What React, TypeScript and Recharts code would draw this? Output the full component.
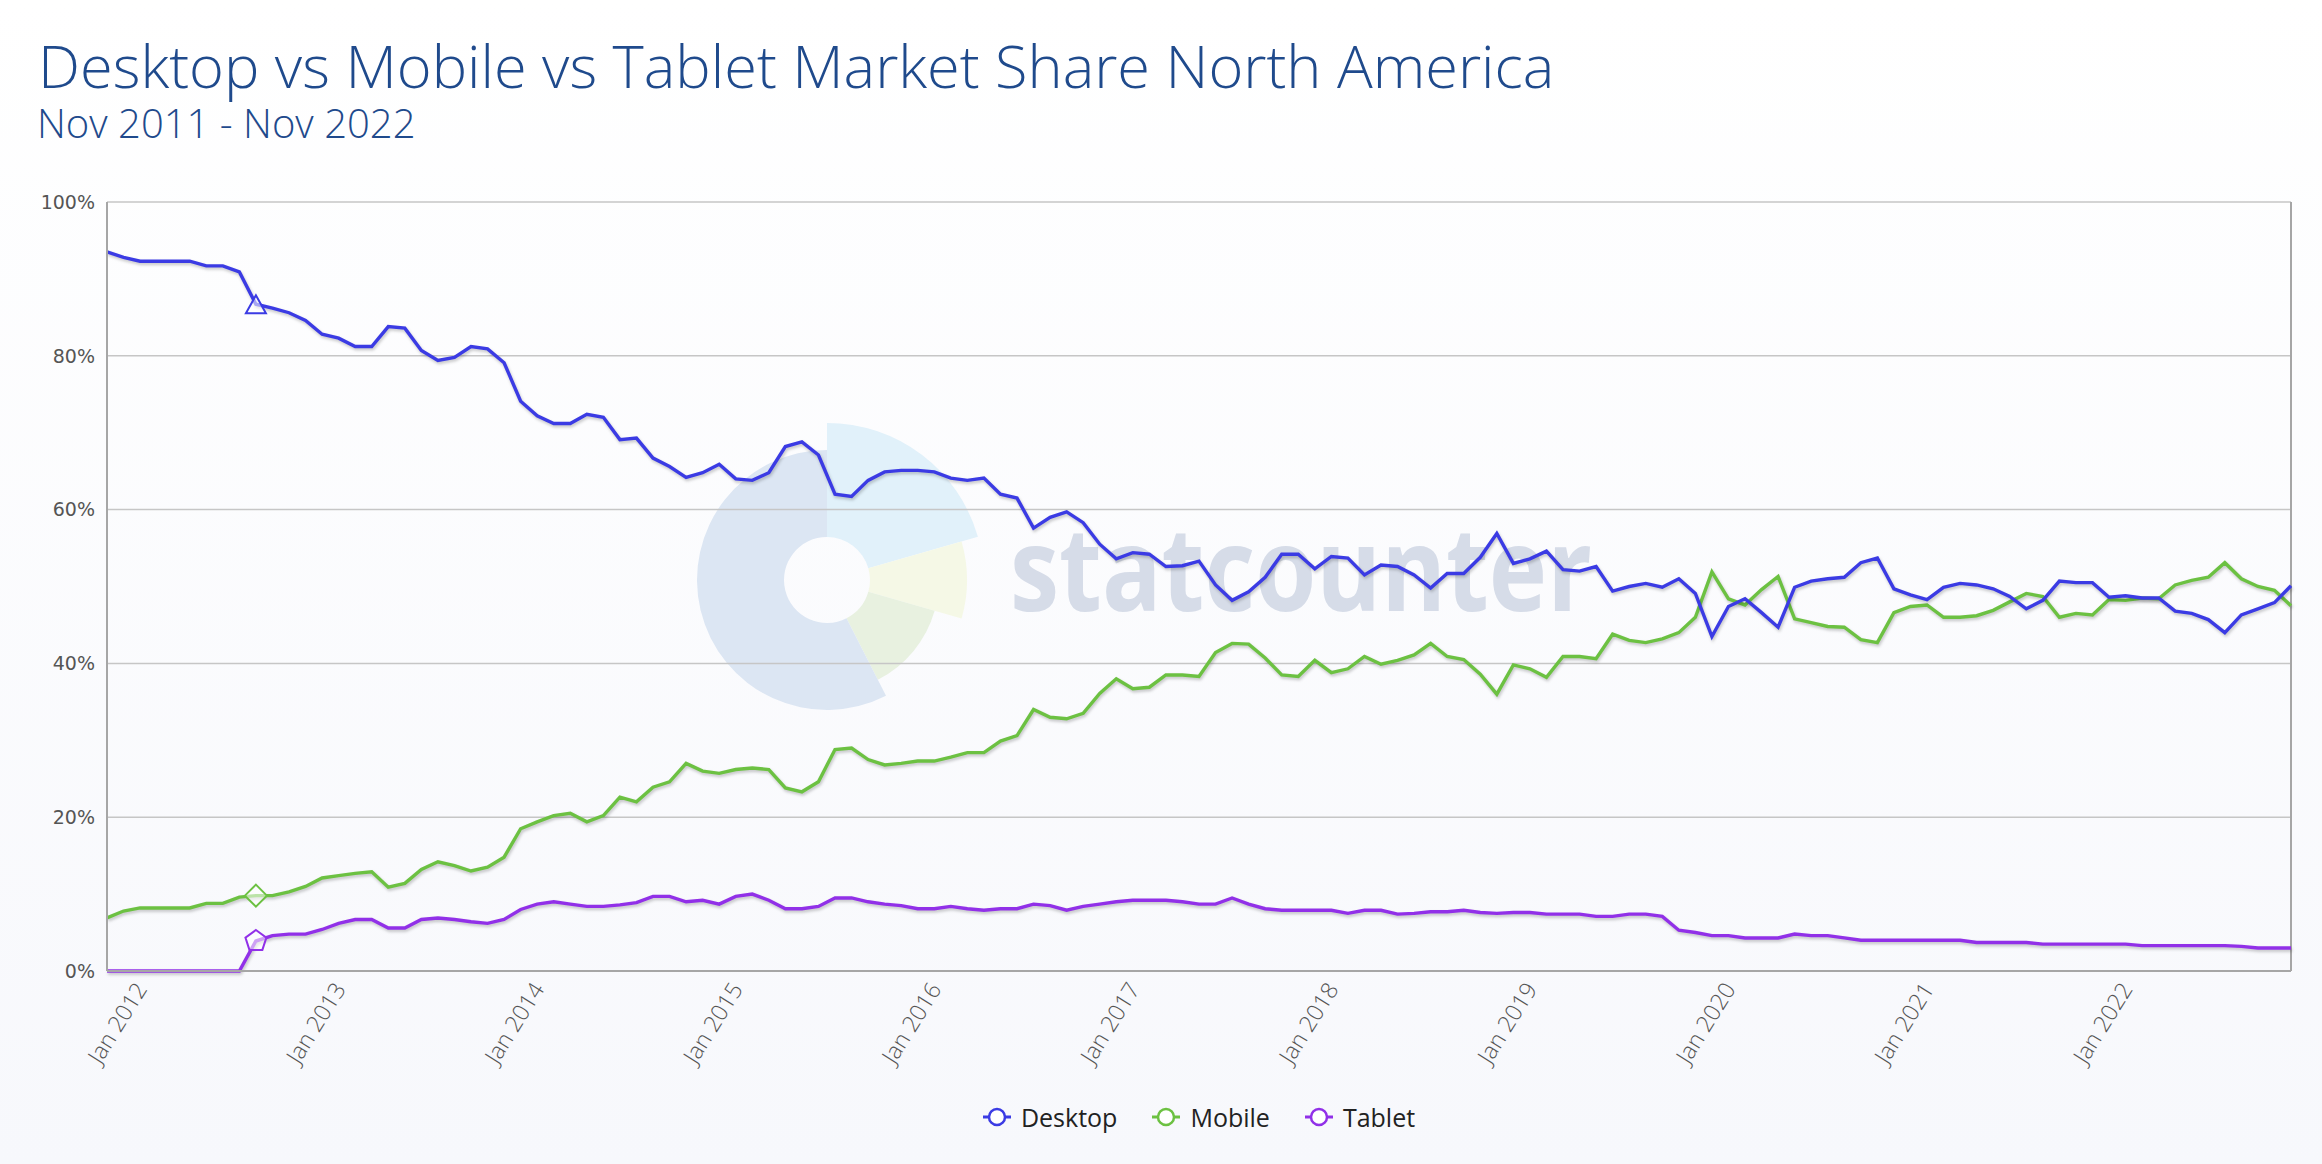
import React from "react";
import { LineChart, Line, XAxis, YAxis, CartesianGrid, ReferenceLine } from "recharts";

const MONTH_NAMES = ["Jan", "Feb", "Mar", "Apr", "May", "Jun", "Jul", "Aug", "Sep", "Oct", "Nov", "Dec"];
// Nov 2011 .. Nov 2022, monthly
const MONTHS = Array.from({ length: 133 }, (_, i) => {
  const m = (10 + i) % 12;
  const y = 2011 + Math.floor((10 + i) / 12);
  return `${MONTH_NAMES[m]} ${y}`;
});

const TICK_LABELS = [
  "Jan 2012", "Jan 2013", "Jan 2014", "Jan 2015", "Jan 2016", "Jan 2017",
  "Jan 2018", "Jan 2019", "Jan 2020", "Jan 2021", "Jan 2022",
];
const Y_TICKS = [0, 20, 40, 60, 80, 100];

const DESKTOP = [
  93.5, 92.8, 92.3, 92.3, 92.3, 92.3, 91.7, 91.7, 90.9, 86.7, 86.2, 85.6, 84.6, 82.8, 82.3, 81.2, 81.2, 83.8, 83.6, 80.7,
  79.4, 79.8, 81.2, 80.9, 79.1, 74.1, 72.2, 71.2, 71.2, 72.4, 72.0, 69.1, 69.3, 66.7, 65.6, 64.2, 64.8, 65.9, 64.0, 63.8,
  64.8, 68.2, 68.8, 67.1, 62.0, 61.7, 63.8, 64.9, 65.1, 65.1, 64.9, 64.1, 63.8, 64.1, 62.0, 61.5, 57.6, 59.0, 59.7, 58.3,
  55.5, 53.6, 54.4, 54.2, 52.6, 52.7, 53.3, 50.2, 48.2, 49.3, 51.2, 54.2, 54.2, 52.3, 53.9, 53.7, 51.5, 52.8, 52.6, 51.5,
  49.8, 51.7, 51.7, 53.8, 56.9, 53.0, 53.6, 54.6, 52.2, 52.0, 52.6, 49.4, 50.0, 50.4, 49.9, 51.0, 49.1, 43.5, 47.4, 48.4,
  46.6, 44.7, 49.9, 50.7, 51.0, 51.2, 53.1, 53.7, 49.7, 48.9, 48.3, 49.9, 50.4, 50.2, 49.7, 48.7, 47.1, 48.2, 50.7, 50.5,
  50.5, 48.6, 48.8, 48.5, 48.5, 46.8, 46.5, 45.7, 44.0, 46.3, 47.1, 47.9, 50.1,
];

const MOBILE = [
  6.9, 7.8, 8.2, 8.2, 8.2, 8.2, 8.8, 8.8, 9.6, 9.8, 9.8, 10.3, 11.0, 12.1, 12.4, 12.7, 12.9, 10.9, 11.4, 13.2,
  14.2, 13.7, 13.0, 13.5, 14.8, 18.5, 19.4, 20.2, 20.5, 19.4, 20.2, 22.6, 22.0, 23.9, 24.6, 27.0, 26.0, 25.7, 26.2, 26.4,
  26.2, 23.8, 23.3, 24.6, 28.8, 29.0, 27.5, 26.8, 27.0, 27.3, 27.3, 27.8, 28.4, 28.4, 29.9, 30.6, 34.0, 33.0, 32.8, 33.5,
  36.1, 38.0, 36.7, 36.9, 38.5, 38.5, 38.3, 41.4, 42.6, 42.5, 40.7, 38.5, 38.3, 40.4, 38.8, 39.3, 40.9, 39.9, 40.4, 41.1,
  42.6, 40.9, 40.5, 38.6, 36.0, 39.8, 39.3, 38.2, 40.9, 40.9, 40.6, 43.8, 43.0, 42.7, 43.2, 44.0, 46.0, 51.9, 48.4, 47.6,
  49.6, 51.3, 45.8, 45.3, 44.8, 44.7, 43.1, 42.7, 46.6, 47.4, 47.6, 46.0, 46.0, 46.2, 46.9, 48.0, 49.1, 48.7, 46.0, 46.5,
  46.3, 48.3, 48.2, 48.5, 48.4, 50.2, 50.8, 51.2, 53.1, 51.0, 50.0, 49.5, 47.5,
];

const TABLET = [
  0, 0, 0, 0, 0, 0, 0, 0, 0, 3.9, 4.6, 4.8, 4.8, 5.4, 6.2, 6.7, 6.7, 5.6, 5.6, 6.7,
  6.9, 6.7, 6.4, 6.2, 6.7, 8.0, 8.7, 9.0, 8.7, 8.4, 8.4, 8.6, 8.9, 9.7, 9.7, 9.0, 9.2, 8.7, 9.7, 10.0,
  9.2, 8.1, 8.1, 8.4, 9.5, 9.5, 9.0, 8.7, 8.5, 8.1, 8.1, 8.4, 8.1, 7.9, 8.1, 8.1, 8.7, 8.5, 7.9, 8.4,
  8.7, 9.0, 9.2, 9.2, 9.2, 9.0, 8.7, 8.7, 9.5, 8.7, 8.1, 7.9, 7.9, 7.9, 7.9, 7.5, 7.9, 7.9, 7.4, 7.5,
  7.7, 7.7, 7.9, 7.6, 7.5, 7.6, 7.6, 7.4, 7.4, 7.4, 7.1, 7.1, 7.4, 7.4, 7.1, 5.3, 5.0, 4.6, 4.6, 4.3,
  4.3, 4.3, 4.8, 4.6, 4.6, 4.3, 4.0, 4.0, 4.0, 4.0, 4.0, 4.0, 4.0, 3.7, 3.7, 3.7, 3.7, 3.5, 3.5, 3.5,
  3.5, 3.5, 3.5, 3.3, 3.3, 3.3, 3.3, 3.3, 3.3, 3.2, 3.0, 3.0, 3.0,
];

const DATA = MONTHS.map((month, i) => ({
  month,
  desktop: DESKTOP[i],
  mobile: MOBILE[i],
  tablet: TABLET[i],
}));

// hovered point in the screenshot (Aug 2012)
const MARK_INDEX = 9;

const COLORS = { desktop: "#3b3be4", mobile: "#6cc142", tablet: "#9130e8" };
const FONT = "'Open Sans', sans-serif";

function shapePath(shape: string, cx: number, cy: number) {
  if (shape === "triangle") return `M${cx} ${cy - 9}L${cx + 10} ${cy + 9}L${cx - 10} ${cy + 9}Z`;
  if (shape === "diamond") return `M${cx} ${cy - 11}L${cx + 11} ${cy}L${cx} ${cy + 11}L${cx - 11} ${cy}Z`;
  const pts = [0, 1, 2, 3, 4].map((k) => {
    const a = -Math.PI / 2 + (k * 2 * Math.PI) / 5;
    return `${cx + 11 * Math.cos(a)} ${cy + 11 * Math.sin(a)}`;
  });
  return `M${pts.join("L")}Z`;
}

const markerDot = (shape: string, color: string) => (props: any) => {
  const { cx, cy, index } = props;
  if (index !== MARK_INDEX) return <g key={`dot-${index}`} />;
  return (
    <path key={`dot-${index}`} d={shapePath(shape, cx, cy)} fill="rgba(255,255,255,0.55)" stroke={color} strokeWidth={2} />
  );
};

function XTick({ x, y, payload }: any) {
  const ax = x + 8;
  const ay = y + 18;
  return (
    <text x={ax} y={ay} transform={`rotate(-58, ${ax}, ${ay})`} textAnchor="end" fill="#555" fontSize={23} fontFamily={FONT} fontWeight={300}>
      {payload.value}
    </text>
  );
}

function sector(cx: number, cy: number, r0: number, r1: number, a0: number, a1: number) {
  const rad = (d: number) => (d * Math.PI) / 180;
  const p = (r: number, a: number) => `${cx + r * Math.cos(rad(a))} ${cy + r * Math.sin(rad(a))}`;
  const large = a1 - a0 > 180 ? 1 : 0;
  return `M${p(r1, a0)}A${r1} ${r1} 0 ${large} 1 ${p(r1, a1)}L${p(r0, a1)}A${r0} ${r0} 0 ${large} 0 ${p(r0, a0)}Z`;
}

function Watermark() {
  const cx = 827, cy = 580, ri = 43;
  return (
    <svg width={2322} height={1164} style={{ position: "absolute", left: 0, top: 0 }}>
      <path d={sector(cx, cy, ri, 157, -90, -16)} fill="#e1f1fa" />
      <path d={sector(cx, cy, ri, 140, -16, 16)} fill="#f5f8e6" />
      <path d={sector(cx, cy, ri, 112, 16, 63)} fill="#e8f1e0" />
      <path d={sector(cx, cy, ri, 130, 63, 270)} fill="#dce6f3" />
      <text x={1010} y={611} fontSize={116} fontWeight={700} fontFamily={FONT} fill="#d6dce8" textLength={582} lengthAdjust="spacingAndGlyphs">
        statcounter
      </text>
    </svg>
  );
}

function LegendItem({ label, color }: { label: string; color: string }) {
  return (
    <div style={{ display: "flex", alignItems: "center" }}>
      <svg width={28} height={22}>
        <line x1={0} y1={11} x2={28} y2={11} stroke={color} strokeWidth={3} />
        <circle cx={14} cy={11} r={8} fill="#fff" stroke={color} strokeWidth={2.5} />
      </svg>
      <span style={{ marginLeft: 10, fontSize: 25, fontFamily: FONT, color: "#222" }}>{label}</span>
    </div>
  );
}

export default function App() {
  return (
    <div style={{ position: "relative", width: 2322, height: 1164, overflow: "hidden", background: "linear-gradient(#ffffff, #f7f8fc)" }}>
      <style>{`body { margin: 0; } .recharts-line-curve { filter: drop-shadow(1px 2px 1.5px rgba(0,0,0,0.22)); }`}</style>
      <Watermark />

      <div style={{ position: "absolute", left: 38, top: 35, fontFamily: FONT, fontWeight: 300, fontSize: 59.5, lineHeight: "59.5px", color: "#1f4a8c", whiteSpace: "nowrap" }}>
        Desktop vs Mobile vs Tablet Market Share North America
      </div>
      <div style={{ position: "absolute", left: 37, top: 103, fontFamily: FONT, fontWeight: 300, fontSize: 40, lineHeight: "40px", color: "#1f4a8c", whiteSpace: "nowrap" }}>
        Nov 2011 - Nov 2022
      </div>

      <div style={{ position: "absolute", left: 0, top: 0 }}>
        <LineChart width={2322} height={1164} data={DATA} margin={{ top: 202, right: 31, bottom: 73, left: 7 }}>
          <CartesianGrid vertical={false} stroke="#c6c6c6" strokeWidth={1.5} />
          <XAxis
            dataKey="month" ticks={TICK_LABELS} interval={0} height={120}
            axisLine={{ stroke: "#a6a6a6", strokeWidth: 2 }} tickLine={false} tickSize={0} tickMargin={0}
            tick={<XTick />}
          />
          <YAxis
            domain={[0, 100]} ticks={Y_TICKS} width={100} interval={0}
            axisLine={{ stroke: "#a6a6a6", strokeWidth: 2 }} tickLine={false} tickSize={0} tickMargin={12}
            tick={{ fill: "#555", fontSize: 19, fontFamily: "'DejaVu Sans', sans-serif" }}
            tickFormatter={(v) => `${v}%`}
          />
          <ReferenceLine x={MONTHS[MONTHS.length - 1]} stroke="#a6a6a6" strokeWidth={2} />
          <Line dataKey="tablet" type="linear" stroke={COLORS.tablet} strokeWidth={3.4} dot={markerDot("pentagon", COLORS.tablet)} activeDot={false} isAnimationActive={false} />
          <Line dataKey="mobile" type="linear" stroke={COLORS.mobile} strokeWidth={3.4} dot={markerDot("diamond", COLORS.mobile)} activeDot={false} isAnimationActive={false} />
          <Line dataKey="desktop" type="linear" stroke={COLORS.desktop} strokeWidth={3.4} dot={markerDot("triangle", COLORS.desktop)} activeDot={false} isAnimationActive={false} />
        </LineChart>
      </div>

      <div style={{ position: "absolute", left: 107, width: 2184, top: 1105, height: 24, display: "flex", justifyContent: "center", alignItems: "center", gap: 35 }}>
        <LegendItem label="Desktop" color={COLORS.desktop} />
        <LegendItem label="Mobile" color={COLORS.mobile} />
        <LegendItem label="Tablet" color={COLORS.tablet} />
      </div>
    </div>
  );
}
